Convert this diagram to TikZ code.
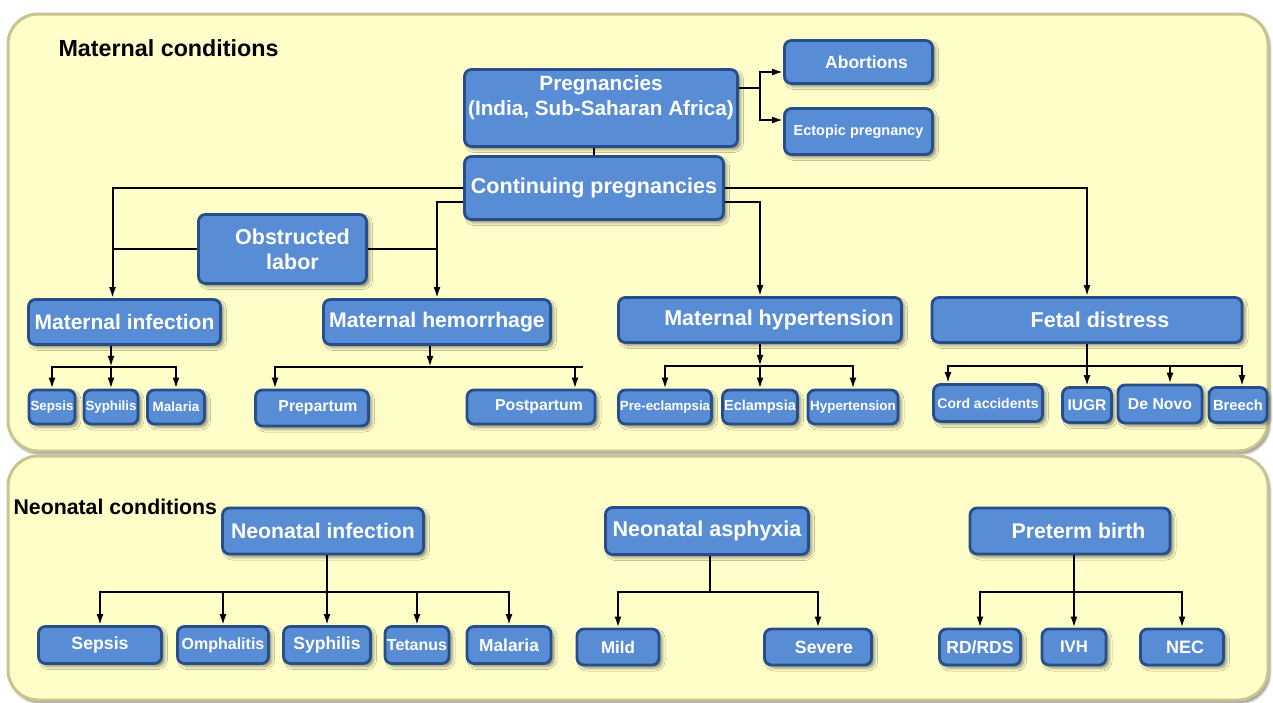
\documentclass[tikz,border=0pt]{standalone}
\usepackage{fontspec}
\setmainfont{Liberation Sans}
\usetikzlibrary{arrows.meta,shadows.blur}
\definecolor{boxfill}{RGB}{88,141,214}
\definecolor{boxline}{RGB}{38,78,138}
\definecolor{panelfill}{RGB}{255,253,200}
\definecolor{paneledge}{RGB}{200,195,145}
\newcommand{\pad}[1]{\hspace*{#1pt}}
\begin{document}
\begin{tikzpicture}[x=1pt,y=-1pt,>={Latex[length=11pt,width=7pt]},
	panel/.style={draw=paneledge, line width=3pt, fill=panelfill, rounded corners=30pt,
		blur shadow={shadow xshift=2pt, shadow yshift=-3pt, shadow opacity=45}},
	box/.style={draw=boxline, line width=2.8pt, fill=boxfill, rounded corners=7pt, text=white,
		align=center, inner sep=1pt, font=\bfseries\fontsize{#1}{25}\selectfont,
		blur shadow={shadow xshift=3pt, shadow yshift=-3pt, shadow opacity=45, shadow blur radius=3pt}},
	box/.default=21.5,
	sz/.style 2 args={minimum width=#1pt, minimum height=#2pt},
	link/.style={line width=2pt},
	title/.style={anchor=west, font=\bfseries\fontsize{#1}{25}\selectfont},
	title/.default=23.3]
		\useasboundingbox (0,0) rectangle (1273,702);
		% Riquadri
		\draw [panel] (8,14) rectangle (1268,451);
		\draw [panel] (8,456) rectangle (1268,700);
		\node [title] (mtitle) at (55,48) {Maternal conditions};
		\node [title=21.3] (ntitle) at (10,507) {Neonatal conditions};
		% Gravidanze
		\node [box=20.7, sz={273}{77}] (preg) at (601,108) {\raisebox{10pt}[\height][\depth]{\begin{tabular}{@{}c@{}}Pregnancies\\(India, Sub-Saharan Africa)\end{tabular}}};
		\node [box=17.5, sz={148}{43}] (abort) at (858.5,62) {\pad{16}Abortions};
		\node [box=14.5, sz={148}{46}] (ecto) at (858.5,131.5) {Ectopic pregnancy};
		\node [box, sz={259}{63}] (cont) at (594,188) {Continuing pregnancies};
		\node [box, sz={168}{69}] (obst) at (282.5,249) {\pad{20}Obstructed\\\pad{20}labor};
		% Complicanze materne
		\node [box=21, sz={192}{45}] (matinf) at (124.5,322) {Maternal infection};
		\node [box=21.2, sz={227}{45}] (math) at (437,322) {Maternal hemorrhage};
		\node [box, sz={283}{45}] (hyp) at (760,320) {\pad{38}Maternal hypertension};
		\node [box, sz={310}{45}] (fetal) at (1087,320) {\pad{26}Fetal distress};
		\node [box=13.3, sz={46}{34}] (sep1) at (52,407) {Sepsis};
		\node [box=13.3, sz={54}{34}] (syp1) at (111,407) {Syphilis};
		\node [box=13.5, sz={57}{34}] (mal1) at (176,407) {Malaria};
		\node [box=15.8, sz={113}{36}] (prep) at (312,408) {\pad{12}Prepartum};
		\node [box=15.8, sz={128}{34}] (post) at (531,407) {\pad{16}Postpartum};
		\node [box=13.3, sz={93}{34}] (pree) at (665,407) {Pre-eclampsia};
		\node [box=14.5, sz={75}{34}] (ecl) at (760,407) {Eclampsia};
		\node [box=13.4, sz={90}{34}] (hten) at (853,407) {Hypertension};
		\node [box=14, sz={109}{37}] (cord) at (988,403) {Cord accidents};
		\node [box=15.5, sz={49}{35}] (iugr) at (1087,405) {IUGR};
		\node [box=15.8, sz={84}{38}] (denovo) at (1160,404) {De Novo};
		\node [box=14.7, sz={58}{35}] (breech) at (1238,405) {Breech};
		% Condizioni neonatali
		\node [box=21.2, sz={201}{46}] (ninf) at (323,531) {Neonatal infection};
		\node [box, sz={203}{47}] (nasph) at (707,531) {Neonatal asphyxia};
		\node [box=21.3, sz={200}{46}] (pterm) at (1070,531) {\pad{17}Preterm birth};
		\node [box=17.7, sz={123}{37}] (sep2) at (100,645) {Sepsis};
		\node [box=16, sz={91}{37}] (omph) at (223,645) {Omphalitis};
		\node [box=17.5, sz={87}{37}] (syp2) at (327,645) {Syphilis};
		\node [box=16, sz={64}{37}] (tet) at (417,645) {Tetanus};
		\node [box=17.4, sz={84}{37}] (mal2) at (509,645) {Malaria};
		\node [box=17, sz={82}{36}] (mild) at (618,647) {Mild};
		\node [box=17.7, sz={107}{36}] (sev) at (818,647) {\pad{12}Severe};
		\node [box=17.5, sz={81}{36}] (rds) at (980,647) {RD/RDS};
		\node [box=16.8, sz={64}{36}] (ivh) at (1074,647) {IVH};
		\node [box=18, sz={83}{36}] (nec) at (1182,647) {\pad{6}NEC};
		% Collegamenti gravidanze
		\draw [link] ([yshift=20pt]preg.east) -- ++(21,0) coordinate (fork);
		\draw [link,->] (fork) |- ([yshift=-10pt]abort.west);
		\draw [link,->] (fork) |- ([yshift=11.5pt]ecto.west);
		\draw [link] (preg.south -| cont.north) -- (cont.north);
		\coordinate (infin) at ([xshift=-12pt]matinf.north);
		\draw [link,->] (cont.west) -| (infin);
		\draw [link,->] ([yshift=-14pt]cont.west) -| (math.north);
		\draw [link,->] (cont.east) -| (fetal.north);
		\draw [link,->] ([yshift=-14pt]cont.east) -| (hyp.north);
		\draw [link] (obst.west) -- (obst.west -| infin);
		\draw [link] (obst.east) -- (obst.east -| math.north);
		% Alberi materni
		\path (matinf.south -| syp1.north) ++(0,21) coordinate (infbar);
		\draw [link,->] (matinf.south -| infbar) -- (infbar);
		\foreach \c in {sep1,syp1,mal1} \draw [link,->] (infbar) -| (\c.north);
		\path (math.south) ++(-7,21) coordinate (hembar);
		\draw [link,->] (math.south -| hembar) -- (hembar);
		\draw [link] (hembar) -- ++(153,0);
		\draw [link,->] (hembar) -| ([xshift=-37pt]prep.north);
		\draw [link,->] (hembar) -| ([xshift=44pt]post.north);
		\path (hyp.south) ++(0,22) coordinate (hypbar);
		\draw [link,->] (hyp.south) -- (hypbar);
		\foreach \c in {pree,ecl,hten} \draw [link,->] (hypbar) -| (\c.north);
		\path (fetal.south) ++(0,22) coordinate (fetbar);
		\draw [link] (fetal.south) -- (fetbar);
		\draw [link,->] (fetbar) -| ([xshift=-40pt]cord.north);
		\draw [link,->] (fetbar) -- (iugr.north);
		\draw [link,->] (fetbar) -| ([xshift=10pt]denovo.north);
		\draw [link,->] (fetbar) -| ([xshift=4pt]breech.north);
		% Alberi neonatali
		\draw [link] (ninf.south -| syp2.north) -- ++(0,37) coordinate (ninfbar);
		\foreach \c in {sep2,omph,syp2,tet,mal2} \draw [link,->] (ninfbar) -| (\c.north);
		\draw [link] ([xshift=3pt]nasph.south) -- ++(0,36) coordinate (aspbar);
		\foreach \c in {mild,sev} \draw [link,->] (aspbar) -| (\c.north);
		\draw [link] (pterm.south -| ivh.north) -- ++(0,37) coordinate (ptbar);
		\foreach \c in {rds,ivh,nec} \draw [link,->] (ptbar) -| (\c.north);
	\end{tikzpicture}
\end{document}
